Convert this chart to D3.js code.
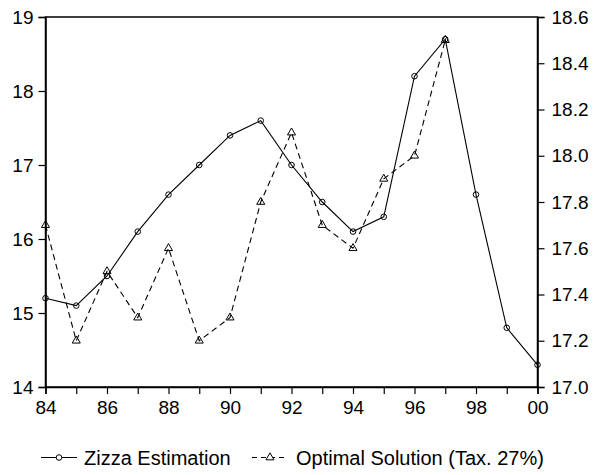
<!DOCTYPE html>
<html><head><meta charset="utf-8">
<script src="https://cdn.jsdelivr.net/npm/d3@7"></script>
<style>body{margin:0;background:#fff}svg{display:block}text{font-family:"Liberation Sans",Arial,sans-serif;fill:#000}</style>
</head><body>
<svg id="c" width="596" height="475"></svg>
<script>
const years = [1984,1985,1986,1987,1988,1989,1990,1991,1992,1993,1994,1995,1996,1997,1998,1999,2000];
const zizza = [15.2,15.1,15.5,16.1,16.6,17.0,17.4,17.6,17.0,16.5,16.1,16.3,18.2,18.7,16.6,14.8,14.3];
const optYears = [1984,1985,1986,1987,1988,1989,1990,1991,1992,1993,1994,1995,1996,1997];
const optimal = [17.7,17.2,17.5,17.3,17.6,17.2,17.3,17.8,18.1,17.7,17.6,17.9,18.0,18.5];
const leftTicks = [14,15,16,17,18,19];
const rightTicks = [17.0,17.2,17.4,17.6,17.8,18.0,18.2,18.4,18.6];
const xLabelYears = [1984,1986,1988,1990,1992,1994,1996,1998,2000];
const seriesNames = ["Zizza Estimation","Optimal Solution (Tax. 27%)"];

const svg = d3.select("#c");
const L=45.5, R=537.5, T=17, B=387;
const x = d3.scaleLinear().domain([1984,2000]).range([L,R]);
const yL = d3.scaleLinear().domain([14,19]).range([B,T]);
const yR = d3.scaleLinear().domain([17,18.6]).range([B,T]);

// frame
svg.append("rect").attr("x",L).attr("y",T).attr("width",R-L).attr("height",B-T)
  .attr("fill","none").attr("stroke","#000").attr("stroke-width",1.5);

const fs = "19px";
// left axis
const gl = svg.append("g").attr("transform",`translate(${L},0)`)
  .call(d3.axisLeft(yL).tickValues(leftTicks).tickSize(7).tickPadding(5).tickFormat(d3.format("d")));
// right axis
const gr = svg.append("g").attr("transform",`translate(${R},0)`)
  .call(d3.axisRight(yR).tickValues(rightTicks).tickSize(7).tickPadding(7).tickFormat(d3.format(".1f")));
// bottom axis
const gb = svg.append("g").attr("transform",`translate(0,${B})`)
  .call(d3.axisBottom(x).tickValues(years).tickSize(7).tickPadding(7)
    .tickFormat(d => xLabelYears.includes(d) ? String(d).slice(2) : ""));
[gl,gr,gb].forEach(g=>{
  g.select(".domain").attr("stroke","#000").attr("stroke-width",1.5);
  g.selectAll(".tick line").attr("stroke","#000").attr("stroke-width",1.2);
  g.selectAll("text").attr("font-size",fs).attr("font-family","Liberation Sans, Arial, sans-serif").attr("fill","#000");
});

// series 1
const line1 = d3.line().x((d,i)=>x(years[i])).y(d=>yL(d));
svg.append("path").datum(zizza).attr("d",line1).attr("fill","none").attr("stroke","#000").attr("stroke-width",1.1);
svg.selectAll("circle.z").data(zizza).enter().append("circle")
  .attr("cx",(d,i)=>x(years[i])).attr("cy",d=>yL(d)).attr("r",2.8)
  .attr("fill","none").attr("stroke","#000").attr("stroke-width",1);

// series 2
const line2 = d3.line().x((d,i)=>x(optYears[i])).y(d=>yR(d));
svg.append("path").datum(optimal).attr("d",line2).attr("fill","none").attr("stroke","#000")
  .attr("stroke-width",1.1).attr("stroke-dasharray","6,4");
const tri = d3.symbol().type(d3.symbolTriangle).size(28);
svg.selectAll("path.o").data(optimal).enter().append("path")
  .attr("transform",(d,i)=>`translate(${x(optYears[i])},${yR(d)})`)
  .attr("d",tri).attr("fill","none").attr("stroke","#000").attr("stroke-width",1);

// legend
const ly = 457.5;
const lg = svg.append("g");
lg.append("line").attr("x1",41).attr("x2",77).attr("y1",ly).attr("y2",ly).attr("stroke","#000").attr("stroke-width",1.1);
lg.append("circle").attr("cx",59).attr("cy",ly).attr("r",2.8).attr("fill","#fff").attr("stroke","#000");
lg.append("text").attr("x",84).attr("y",ly+7).attr("font-size","20px").text(seriesNames[0]);
lg.append("line").attr("x1",252).attr("x2",287).attr("y1",ly).attr("y2",ly).attr("stroke","#000").attr("stroke-width",1.1).attr("stroke-dasharray","5,4");
lg.append("path").attr("transform",`translate(270,${ly})`).attr("d",tri).attr("fill","#fff").attr("stroke","#000");
lg.append("text").attr("x",296).attr("y",ly+7).attr("font-size","20px").text(seriesNames[1]);
</script>
</body></html>
